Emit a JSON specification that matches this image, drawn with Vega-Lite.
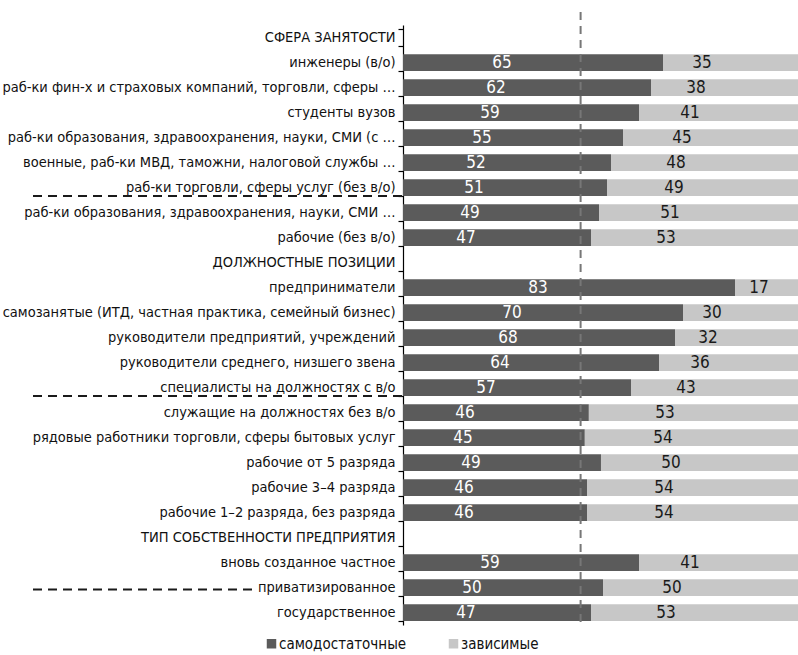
{
  "$schema": "https://vega.github.io/schema/vega-lite/v6.json",
  "width": 395,
  "height": 600,
  "autosize": {"type": "none"},
  "padding": {"left": 403, "top": 25, "right": 0, "bottom": 30},
  "background": "white",
  "config": {
    "view": {"stroke": null},
    "font": "DejaVu Sans Condensed, Liberation Sans",
    "text": {"font": "DejaVu Sans Condensed, Liberation Sans"}
  },
  "datasets": {
    "rows": [
      {"cat": "СФЕРА ЗАНЯТОСТИ"},
      {"cat": "инженеры (в/о)", "самодостаточные": 65, "зависимые": 35},
      {"cat": "раб-ки фин-х и страховых компаний, торговли, сферы …", "самодостаточные": 62, "зависимые": 38},
      {"cat": "студенты вузов", "самодостаточные": 59, "зависимые": 41},
      {"cat": "раб-ки образования, здравоохранения, науки, СМИ (с …", "самодостаточные": 55, "зависимые": 45},
      {"cat": "военные, раб-ки МВД, таможни, налоговой службы …", "самодостаточные": 52, "зависимые": 48},
      {"cat": "раб-ки торговли, сферы услуг (без в/о)", "самодостаточные": 51, "зависимые": 49},
      {"cat": "раб-ки образования, здравоохранения, науки, СМИ …", "самодостаточные": 49, "зависимые": 51},
      {"cat": "рабочие (без в/о)", "самодостаточные": 47, "зависимые": 53},
      {"cat": "ДОЛЖНОСТНЫЕ ПОЗИЦИИ"},
      {"cat": "предприниматели", "самодостаточные": 83, "зависимые": 17},
      {"cat": "самозанятые (ИТД, частная практика, семейный бизнес)", "самодостаточные": 70, "зависимые": 30},
      {"cat": "руководители предприятий, учреждений", "самодостаточные": 68, "зависимые": 32},
      {"cat": "руководители среднего, низшего звена", "самодостаточные": 64, "зависимые": 36},
      {"cat": "специалисты на должностях с в/о", "самодостаточные": 57, "зависимые": 43},
      {"cat": "служащие на должностях без в/о", "самодостаточные": 46, "зависимые": 53},
      {"cat": "рядовые работники торговли, сферы бытовых услуг", "самодостаточные": 45, "зависимые": 54},
      {"cat": "рабочие от 5 разряда", "самодостаточные": 49, "зависимые": 50},
      {"cat": "рабочие 3–4 разряда", "самодостаточные": 46, "зависимые": 54},
      {"cat": "рабочие 1–2 разряда, без разряда", "самодостаточные": 46, "зависимые": 54},
      {"cat": "ТИП СОБСТВЕННОСТИ ПРЕДПРИЯТИЯ"},
      {"cat": "вновь созданное частное", "самодостаточные": 59, "зависимые": 41},
      {"cat": "приватизированное", "самодостаточные": 50, "зависимые": 50},
      {"cat": "государственное", "самодостаточные": 47, "зависимые": 53}
    ]
  },
  "layer": [
    {
      "data": {"name": "rows"},
      "transform": [
        {"fold": ["самодостаточные", "зависимые"], "as": ["group", "value"]},
        {"filter": "isValid(datum.value)"},
        {"stack": "value", "groupby": ["cat"], "sort": [{"field": "group", "order": "descending"}], "offset": "normalize", "as": ["x0", "x1"]},
        {"calculate": "max((datum.x0 + datum.x1) / 2 - 0.0775, datum.x0 + 0.06)", "as": "labelPos"}
      ],
      "encoding": {
        "y": {
          "field": "cat",
          "type": "nominal",
          "title": null,
          "scale": {
            "domain": [
              "СФЕРА ЗАНЯТОСТИ",
              "инженеры (в/о)",
              "раб-ки фин-х и страховых компаний, торговли, сферы …",
              "студенты вузов",
              "раб-ки образования, здравоохранения, науки, СМИ (с …",
              "военные, раб-ки МВД, таможни, налоговой службы …",
              "раб-ки торговли, сферы услуг (без в/о)",
              "раб-ки образования, здравоохранения, науки, СМИ …",
              "рабочие (без в/о)",
              "ДОЛЖНОСТНЫЕ ПОЗИЦИИ",
              "предприниматели",
              "самозанятые (ИТД, частная практика, семейный бизнес)",
              "руководители предприятий, учреждений",
              "руководители среднего, низшего звена",
              "специалисты на должностях с в/о",
              "служащие на должностях без в/о",
              "рядовые работники торговли, сферы бытовых услуг",
              "рабочие от 5 разряда",
              "рабочие 3–4 разряда",
              "рабочие 1–2 разряда, без разряда",
              "ТИП СОБСТВЕННОСТИ ПРЕДПРИЯТИЯ",
              "вновь созданное частное",
              "приватизированное",
              "государственное"
            ],
            "paddingInner": 0.33,
            "paddingOuter": 0.165
          },
          "axis": {
            "title": null,
            "labelFont": "DejaVu Sans Condensed, Liberation Sans",
            "labelFontSize": 14.5,
            "labelColor": "#111111",
            "labelLimit": 600,
            "labelPadding": 3,
            "tickBand": "extent",
            "tickSize": 5,
            "tickColor": "#000000",
            "domainColor": "#000000",
            "domainWidth": 1.2,
            "tickWidth": 1.2
          }
        }
      },
      "layer": [
        {
          "mark": {"type": "bar", "clip": true},
          "encoding": {
            "x": {"field": "x0", "type": "quantitative", "scale": {"domain": [0, 0.9875], "nice": false}, "axis": null},
            "x2": {"field": "x1"},
            "color": {
              "field": "group",
              "type": "nominal",
              "scale": {"domain": ["самодостаточные", "зависимые"], "range": ["#5b5b5b", "#c7c7c7"]},
              "legend": {
                "orient": "none",
                "legendX": -139,
                "legendY": 611,
                "direction": "horizontal",
                "title": null,
                "symbolType": "square",
                "symbolSize": 90,
                "symbolStrokeWidth": 0,
                "labelFont": "DejaVu Sans Condensed, Liberation Sans",
                "labelFontSize": 15,
                "labelColor": "#111111",
                "labelOffset": 0,
                "columnPadding": 39
              }
            }
          }
        },
        {
          "mark": {"type": "text", "fontSize": 17, "align": "center", "baseline": "middle", "font": "DejaVu Sans Condensed, Liberation Sans"},
          "encoding": {
            "x": {"field": "labelPos", "type": "quantitative", "scale": {"domain": [0, 0.9875], "nice": false}},
            "text": {"field": "value", "type": "quantitative"},
            "color": {"condition": {"test": "datum.group === 'самодостаточные'", "value": "#ffffff"}, "value": "#1a1a1a"}
          }
        }
      ]
    },
    {
      "data": {"values": [{"cat": "раб-ки торговли, сферы услуг (без в/о)"}, {"cat": "специалисты на должностях с в/о"}]},
      "mark": {"type": "rule", "strokeDash": [9, 6], "strokeWidth": 2, "color": "#1a1a1a"},
      "encoding": {
        "y": {"field": "cat", "type": "nominal", "bandPosition": 1},
        "x": {"datum": -0.925, "scale": {"domain": [0, 0.9875], "nice": false}},
        "x2": {"datum": 0}
      }
    },
    {
      "data": {"values": [{"cat": "приватизированное"}]},
      "mark": {"type": "rule", "strokeDash": [9, 6], "strokeWidth": 2, "color": "#1a1a1a"},
      "encoding": {
        "y": {"field": "cat", "type": "nominal", "bandPosition": 0.62},
        "x": {"datum": -0.925, "scale": {"domain": [0, 0.9875], "nice": false}},
        "x2": {"datum": -0.375}
      }
    },
    {
      "data": {"values": [{"ref": "среднее"}]},
      "mark": {"type": "rule", "strokeDash": [8, 6], "strokeWidth": 2, "color": "#777777", "yOffset": -13, "y2Offset": 12},
      "encoding": {
        "x": {"datum": 0.444, "scale": {"domain": [0, 0.9875], "nice": false}}
      }
    }
  ]
}
